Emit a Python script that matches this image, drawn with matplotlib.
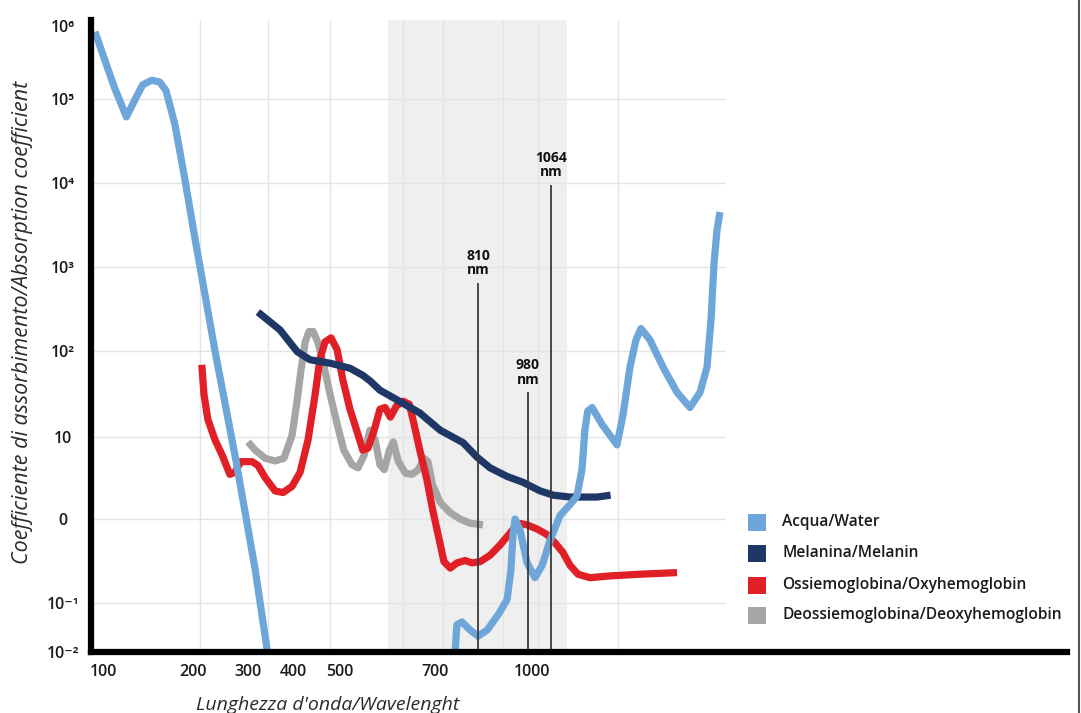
import numpy as np
import matplotlib
matplotlib.use('Agg')
import matplotlib.pyplot as plt
from matplotlib.patches import Rectangle
from matplotlib.lines import Line2D
from matplotlib.ticker import FixedLocator, NullLocator

plt.rcParams['font.family'] = ['Open Sans', 'DejaVu Sans']

nan = np.nan

# ---------------- data (wavelength nm, absorption coefficient) ----------------
water_wl = [96, 102, 113, 126, 136, 144, 154, 163, 170, 180, 191, 204, 240, 278, 316, 344, nan,
            751, 756, 769, 790, 810, 841, 878, 909, 922, 929, 936, 953, 977, 1010, 1034, 1061,
            1089, 1117, 1136, 1150, 1158, 1166, 1178, 1210, 1285, 1315, 1350, 1380, 1405, 1450,
            1552, 1662, 1764, 1843, 1898, 1929, 1953, 1976, 2000]
water_val = [8.3e5, 3.4e5, 1.4e5, 6.1e4, 1.0e5, 1.55e5, 1.8e5, 1.7e5, 1.3e5, 4.9e4, 1.1e4, 2.1e3,
             1.0e2, 5.2, 0.25, 0.009, nan,
             0.009, 0.036, 0.041, 0.028, 0.021, 0.028, 0.057, 0.11, 0.25, 0.65, 1.0, 0.74, 0.30,
             0.20, 0.28, 0.56, 1.1, 1.5, 1.9, 4.0, 12, 20, 22, 14, 8, 18, 65, 135, 185, 135,
             65, 33, 22, 33, 65, 230, 1.1e3, 2.7e3, 4.5e3]

melanin_wl = [322, 371, 409, 436, 479, 521, 548, 563, 584, 620, 668, 713, 772, 807, 851, 909,
              963, 1027, 1070, 1117, 1192, 1253]
melanin_val = [290, 178, 98, 79, 72, 63, 52, 45, 35, 27, 19, 12, 8.5, 5.7, 4.2, 3.3,
               2.8, 2.2, 1.95, 1.85, 1.85, 1.95]

oxy_wl = [216, 220, 227, 240, 253, 267, 276, 287, 309, 322, 338, 360, 378, 398, 415, 432, 447,
          457, 468, 481, 494, 506, 521, 536, 548, 559, 572, 584, 595, 606, 619, 633, 646, 656,
          668, 683, 695, 708, 723, 739, 756, 777, 795, 817, 851, 885, 919, 946, 977, 1017,
          1051, 1075, 1097, 1117, 1139, 1172, 1250, 1400, 1662]
oxy_val = [69, 31, 16, 9.2, 6.0, 3.5, 3.7, 5.0, 5.0, 4.5, 3.2, 2.2, 2.1, 2.5, 3.7, 9.2, 31,
           79, 128, 143, 103, 46, 21, 11.5, 6.9, 7.3, 12, 21, 22, 17, 23, 26, 24, 14,
           6.9, 3.0, 1.3, 0.65, 0.31, 0.26, 0.30, 0.32, 0.30, 0.31, 0.37, 0.49, 0.68, 0.89, 0.85, 0.76,
           0.65, 0.52, 0.40, 0.28, 0.22, 0.20, 0.21, 0.22, 0.23]

deoxy_wl = [300, 316, 338, 360, 380, 398, 409, 417, 426, 434, 443, 453, 464, 479, 494, 508, 525,
            538, 551, 563, 574, 584, 593, 604, 612, 623, 638, 652, 665, 677, 685, 695, 713, 738,
            764, 790, 827]
deoxy_val = [8.7, 6.9, 5.5, 5.1, 5.5, 10.5, 27, 60, 128, 170, 170, 126, 74, 31, 14, 6.9, 4.6,
             4.2, 6.0, 12, 9.2, 4.6, 4.0, 6.9, 8.7, 5.0, 3.6, 3.5, 4.0, 5.5, 5.0, 2.6, 1.6, 1.2,
             1.0, 0.89, 0.85]

series_names = ['Acqua/Water', 'Melanina/Melanin', 'Ossiemoglobina/Oxyhemoglobin',
                'Deossiemoglobina/Deoxyhemoglobin']
series_colors = ['#6ea6d9', '#1f3766', '#e01f26', '#a5a5a5']

x_ticks = [100, 200, 300, 400, 500, 700, 1000]
y_ticks = [1e6, 1e5, 1e4, 1e3, 1e2, 10, 1, 0.1, 0.01]
y_ticklabels = ['10\u2076', '10\u2075', '10\u2074', '10\u00b3', '10\u00b2', '10', '0',
                '10\u207b\u00b9', '10\u207b\u00b2']

laser_wl = [810, 980, 1064]
laser_top = [645, 33, 9460]
laser_labels = ['810\nnm', '980\nnm', '1064\nnm']

band = (601, 1108)
vgrid_wl = [213, 344, 479, 633, 720, 895, 1020, 1291]
hgrid_val = [1e5, 1e4, 1e3, 1e2, 10, 1, 0.1]

# ---------------- custom (non-uniform) axis scales of the original ----------------
X_WL = np.array([0, 94, 100, 200, 300, 400, 500, 700, 810, 980, 1000, 1064, 1200, 1450, 2000, 4000, 20000])
X_PX = np.array([40, 91, 103, 193, 248, 293, 340, 435, 478, 528, 532, 551, 600, 650, 720, 1067, 1500])

def xf(w):
    return np.interp(np.asarray(w, float), X_WL, X_PX)

def xi(p):
    return np.interp(np.asarray(p, float), X_PX, X_WL)

Y_LOG = np.array([-12, -3, -2, -1, 0, 1, 2, 3, 4, 5, 6, 6.1, 12])
Y_H = 713 - np.array([1200, 700, 652, 603, 519, 437, 351, 267, 183, 99, 26, 18.7, -400])

def yf(v):
    v = np.asarray(v, float)
    with np.errstate(divide='ignore', invalid='ignore'):
        lg = np.log10(np.clip(v, 1e-12, None))
    return np.interp(lg, Y_LOG, Y_H)

def yi(h):
    return 10 ** np.interp(np.asarray(h, float), Y_H, Y_LOG)

W, H = 1081, 713
fig = plt.figure(figsize=(W / 100, H / 100), dpi=100)
ax = fig.add_axes([91 / W, 1 - 652 / H, (1067 - 91) / W, (652 - 20) / H])
ax.set_xscale('function', functions=(xf, xi))
ax.set_yscale('function', functions=(yf, yi))
ax.set_xlim(94, 4000)
ax.set_ylim(0.01, 10 ** 6.08)

# background band and grid
ax.axvspan(band[0], band[1], color='#efefef', zorder=0, lw=0)
ax.vlines(vgrid_wl, 0.01, 10 ** 6.08, colors='#e4e4e4', lw=1.0, zorder=1)
ax.hlines(hgrid_val, 94, 2029, colors='#e4e4e4', lw=1.0, zorder=1)

lw = 5.2
ax.plot(deoxy_wl, deoxy_val, color=series_colors[3], lw=lw, solid_joinstyle='round',
        solid_capstyle='butt', zorder=3)
ax.plot(oxy_wl, oxy_val, color=series_colors[2], lw=lw, solid_joinstyle='round',
        solid_capstyle='butt', zorder=4)
ax.plot(melanin_wl, melanin_val, color=series_colors[1], lw=lw, solid_joinstyle='round',
        solid_capstyle='butt', zorder=5)
ax.plot(water_wl, water_val, color=series_colors[0], lw=lw, solid_joinstyle='round',
        solid_capstyle='butt', zorder=6)

# laser wavelength markers
for wl, top, lab in zip(laser_wl, laser_top, laser_labels):
    ax.vlines(wl, 0.01, top, colors='#3a3a3a', lw=1.3, zorder=7)
    ax.annotate(lab, xy=(wl, top), xytext=(0, 4), textcoords='offset points',
                ha='center', va='bottom', fontsize=10, fontweight='bold',
                color='#111111', linespacing=1.05, zorder=8)

# spines and ticks
for s in ['top', 'right']:
    ax.spines[s].set_visible(False)
for s in ['left', 'bottom']:
    ax.spines[s].set_linewidth(4.5)
    ax.spines[s].set_color('black')
    ax.spines[s].set_zorder(10)

ax.xaxis.set_major_locator(FixedLocator(x_ticks))
ax.xaxis.set_minor_locator(NullLocator())
ax.set_xticklabels([str(t) for t in x_ticks])
ax.yaxis.set_major_locator(FixedLocator(y_ticks))
ax.yaxis.set_minor_locator(NullLocator())
ax.set_yticklabels(y_ticklabels)
ax.tick_params(axis='both', length=0, labelsize=11.5, labelcolor='#1a1a1a')
ax.tick_params(axis='x', pad=9)
ax.tick_params(axis='y', pad=20)
for t in ax.get_yticklabels():
    t.set_horizontalalignment('center')
    t.set_fontweight('semibold')
for t in ax.get_xticklabels():
    t.set_fontweight('semibold')

# axis titles
fig.text(328 / W, 1 - 705 / H, "Lunghezza d'onda/Wavelenght", fontsize=14, style='italic',
         color='#2a2a2a', ha='center', va='center')
fig.text(23 / W, 1 - 322 / H, 'Coefficiente di assorbimento/Absorption coefficient', fontsize=15.5,
         style='italic', color='#2a2a2a', ha='center', va='center', rotation=90)

# legend
rows_y = [522, 553, 585, 615]
for name, col, yc in zip(series_names, series_colors, rows_y):
    fig.add_artist(Rectangle((748 / W, 1 - (yc + 8.5) / H), 18 / W, 17 / H,
                             transform=fig.transFigure, color=col, lw=0))
    fig.text(782 / W, 1 - yc / H, name, fontsize=11.2, fontweight='semibold', color='#1a1a1a',
             ha='left', va='center')

# right border line
fig.add_artist(Line2D([1079 / W, 1079 / W], [0, 1], transform=fig.transFigure,
                      color='#555555', lw=1.5))

fig.savefig('out.png', dpi=100)
